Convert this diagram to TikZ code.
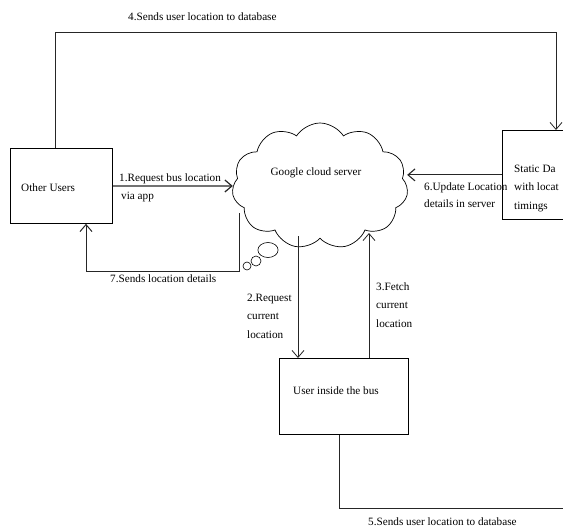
\documentclass[tikz,border=0pt]{standalone}
\usepackage{fontspec}
\setmainfont{Liberation Serif}
\usetikzlibrary{arrows.meta,shapes.symbols}
\begin{document}
\begin{tikzpicture}[x=1pt,y=-1pt,
  lbl/.style={font=\fontsize{11.2}{18.5}\selectfont, inner sep=0pt, anchor=west, align=left},
  boxst/.style={draw, line width=0.8pt, anchor=north west, inner sep=0pt},
  conn/.style={line width=0.8pt, draw=black!85},
  arr/.style={conn, -{Straight Barb[length=7pt,width=12pt]}},
  bubble/.style={draw, circle, inner sep=0pt, line width=0.6pt}]
\useasboundingbox (0,0) rectangle (563,530);
\clip (0,0) rectangle (563,530);
% boxes
\node[boxst, minimum width=102pt, minimum height=75pt] (ou) at (10,148) {};
\node[boxst, minimum width=100pt, minimum height=89pt] (st) at (502,130) {};
\node[boxst, minimum width=129pt, minimum height=76pt] (ub) at (279,358) {};
\node[cloud, draw, cloud puffs=11, cloud puff arc=115, aspect=1.4,
      minimum width=176pt, minimum height=126pt, line width=0.7pt] (cl) at (320,186) {};
\node[bubble, minimum size=15pt, xscale=1.35] (b1) at (268,250) {};
\node[bubble, minimum size=10pt] (b2) at (256,261) {};
\node[bubble, minimum size=8pt] (b3) at (247,266) {};
% texts in shapes
\node[lbl] (ouT) at (21,188) {Other Users};
\node[lbl] (ubT) at (293,391) {User inside the bus};
\node[lbl] (stT) at (514,188) {Static Da\\with locat\\timings};
\node[lbl, anchor=center] (clT) at (316,173) {Google cloud server};
% connectors
\coordinate (c7) at (239,213);
\coordinate (c2) at (298,236);
\coordinate (c3) at (369,233);
\coordinate (e5) at (563,508);
\draw[arr] ([xshift=45pt]ou.north west) -- ++(0,-116) -| ([xshift=54pt]st.north west);
\draw[arr, line width=1.2pt] (ou.east) -- (cl.west);
\draw[arr, line width=1pt] (c7) -- ++(0,58) -| ([xshift=76pt]ou.south west);
\draw[arr, line width=1.1pt] (st.west) -- (cl.east |- st.west);
\draw[arr] (c2) -- (c2 |- ub.north);
\draw[arr] (c3 |- ub.north) -- (c3);
\draw[conn] ([xshift=60pt]ub.south west) |- (e5);
% labels
\node[lbl] (l4) at (128,17) {4.Sends user location to database};
\node[lbl] (l1) at (119,179) {1.Request bus location};
\node[lbl] (l1b) at (121,197) {via app};
\node[lbl] (l7) at (110,279) {7.Sends location details};
\node[lbl] (l6) at (424,195) {6.Update Location\\[-2pt]details in server};
\node[lbl] (l2) at (247,316) {2.Request\\current\\location};
\node[lbl] (l3) at (376,305) {3.Fetch\\current\\location};
\node[lbl] (l5) at (368,522) {5.Sends user location to database};
\end{tikzpicture}
\end{document}
